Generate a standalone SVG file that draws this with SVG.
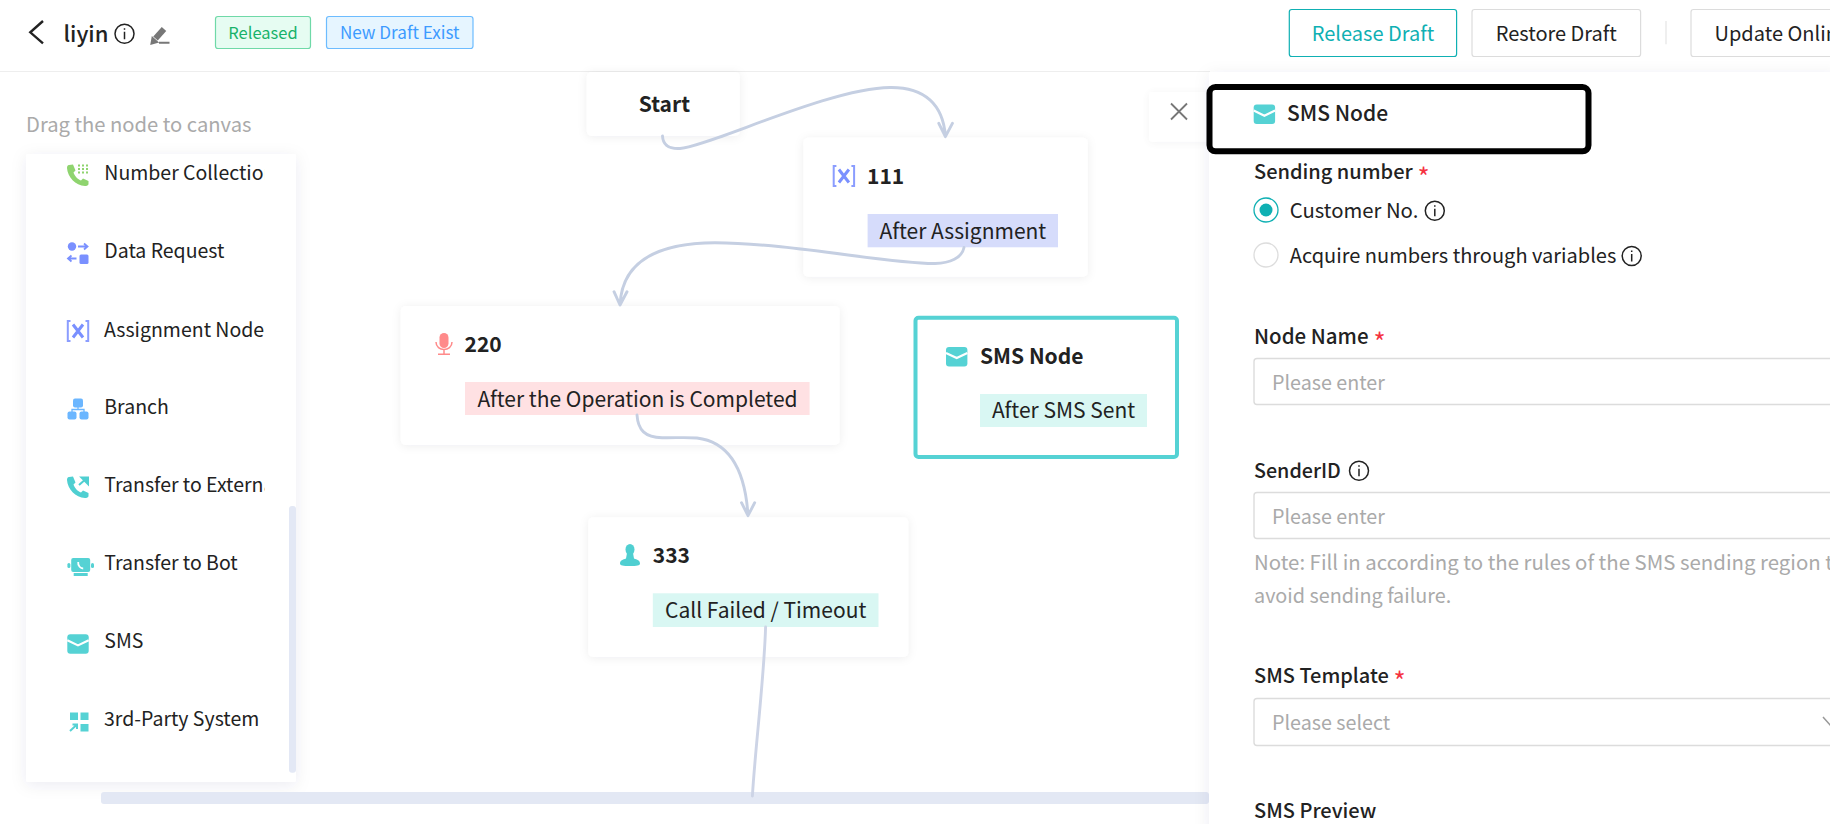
<svg xmlns="http://www.w3.org/2000/svg" xmlns:xlink="http://www.w3.org/1999/xlink" width="1830" height="824" viewBox="0 0 1830 824">
<style>
text{font-family:"Noto Sans CJK SC","Noto Sans",sans-serif;font-size:20px;fill:#222}
.b{font-weight:700;font-size:21px}.nl{font-size:21px}.n{font-size:19.500px}.m{font-weight:500}.g{fill:#aaa}.c{text-anchor:middle}
.star{fill:#f5323f;font-size:26px}
.card{fill:#fff;filter:url(#sh)}
.conn{fill:none;stroke:#c5cfe2;stroke-width:2.900;stroke-linecap:round;stroke-linejoin:round}
.inp{fill:#fff;stroke:#dcdcdc;stroke-width:1.400}
</style>
<defs>
<filter id="sh" x="-20%" y="-20%" width="140%" height="140%"><feDropShadow dx="0" dy="1" stdDeviation="5" flood-color="#1a2550" flood-opacity=".07"/></filter>
<filter id="sh2" x="-20%" y="-20%" width="140%" height="140%"><feDropShadow dx="0" dy="3" stdDeviation="8" flood-color="#1a2550" flood-opacity=".08"/></filter>
<clipPath id="menu"><rect x="26" y="154" width="238.600" height="628"/></clipPath>
<path id="i-phone" d="M-9-10L-5-10.500-2.500-4.500-4.500-2.500C-3.500 1 0 4.500 3 5.500L5 3.500 10.500 6 10.500 9C10.500 10.500 8.500 11 7 11-2.500 10.500-10.500 2-11-7-11-8.500-10.500-10-9-10Z"/>
<g id="i-sms"><rect x="-10.700" y="-9.700" width="21.400" height="19.400" rx="3" fill="#55d2d4"/><path d="M-10.700-3.800L0 1.400 10.700-3.800" fill="none" stroke="#fff" stroke-width="2.200"/></g>
<g id="i-x" fill="none"><path d="M-7.500-10H-10.200V10H-7.500M7.500-10H10.200V10H7.500" stroke="#8b9dff" stroke-width="2"/><path d="M-5-6.500L5 6.500M5-6.500L-5 6.500" stroke="#7a90ff" stroke-width="3"/></g>
<g id="i-info" fill="none" stroke="#222" stroke-width="1.500"><circle r="9.500"/><path d="M0-2V5.500M0-5.500V-4"/></g>
</defs>
<rect width="1830" height="824" fill="#fff"/>

<g id="header">
<path d="M43 21L30.300 32.300L43 43.300" fill="none" stroke="#222" stroke-width="2.400"/>
<text x="63.500" y="41.700" class="m" style="font-size:22px">liyin</text>
<use xlink:href="#i-info" href="#i-info" x="124.500" y="33.700"/>
<path d="M164 29L155.500 38.500" fill="none" stroke="#777" stroke-width="6"/><path d="M151.500 43.500L152.500 38 157 42ZM159 42.700H169.500" fill="#777" stroke="#777" stroke-width="2"/>
<rect x="215.500" y="16.500" width="95" height="32" rx="2.500" fill="#e6fcf2" stroke="#6fd9a8" stroke-width="1.200"/>
<text x="263" y="39" class="c" style="font-size:16.500px;fill:#17b26a">Released</text>
<rect x="326.500" y="16.500" width="146.500" height="32" rx="2.500" fill="#e6f5ff" stroke="#6dbcff" stroke-width="1.200"/>
<text x="399.700" y="39" class="c" style="font-size:17.100px;fill:#3d9bff">New Draft Exist</text>
<path d="M0 71.500H1210" stroke="#eee" stroke-width="1.200"/>
<rect x="1289.300" y="9.500" width="167.300" height="47" rx="2.500" fill="#fff" stroke="#0fb0b3" stroke-width="1.200"/>
<text x="1373" y="41.300" class="c" style="fill:#0fb0b3">Release Draft</text>
<rect x="1472" y="9.500" width="168.600" height="47" rx="2.500" fill="#fff" stroke="#dcdcdc" stroke-width="1.200"/>
<text x="1556.300" y="41.300" class="c">Restore Draft</text>
<path d="M1666 21V44.300" stroke="#e8e8e8" stroke-width="1.400"/>
<rect x="1691" y="9.500" width="170" height="47" rx="2.500" fill="#fff" stroke="#dcdcdc" stroke-width="1.200"/>
<text x="1714.500" y="41.300">Update Online</text>
</g>

<g id="palette">
<text x="26" y="132" class="g" style="font-size:20.200px">Drag the node to canvas</text>
<rect x="26" y="154" width="270" height="628" rx="2" fill="#fff" filter="url(#sh2)"/>
<rect x="289" y="506" width="7" height="266.700" rx="3" fill="#e3e8f5"/>
<g clip-path="url(#menu)">
<text x="104.300" y="180" class="n">Number Collection</text>
<text x="104.300" y="258" class="n">Data Request</text>
<text x="104" y="336.700" class="n">Assignment Node</text>
<text x="104.300" y="414" class="n">Branch</text>
<text x="104.300" y="492" class="n">Transfer to Externa</text>
<text x="104.300" y="570" class="n">Transfer to Bot</text>
<text x="104.300" y="648" class="n">SMS</text>
<text x="104" y="726" class="n">3rd-Party System</text>
</g>
<g transform="translate(78,175)"><use xlink:href="#i-phone" href="#i-phone" fill="#8fd46f"/><path d="M0-9.500h2M4-9.500h2M8-9.500h2M0-6h2M4-6h2M8-6h2M0-2.500h2M4-2.500h2M8-2.500h2" stroke="#8fd46f" stroke-width="2"/></g>
<g transform="translate(78,253)" fill="#7a90ff"><circle cx="-6" cy="-6.500" r="4.200"/><rect x="1.500" y="1.500" width="9" height="9.500" rx="1.500"/><path d="M0-6.500H9M6-9.500L9.500-6.500 6-3.500M-1.500 5.500H-9.500M-6.500 2.500L-10 5.500-6.500 8.500" fill="none" stroke="#7a90ff" stroke-width="1.800"/></g>
<use xlink:href="#i-x" href="#i-x" x="78" y="331"/>
<g transform="translate(78,409)"><rect x="-5" y="-10.500" width="10" height="9" rx="2" fill="#6bb6ff"/><rect x="-10.500" y="2.500" width="9" height="8" rx="2" fill="#6bb6ff"/><rect x="1.500" y="2.500" width="9" height="8" rx="2" fill="#6bb6ff"/><path d="M0-2V1M-6 3V.5H6V3" fill="none" stroke="#6bb6ff" stroke-width="1.300"/></g>
<g transform="translate(78,487)"><use xlink:href="#i-phone" href="#i-phone" fill="#4fcfd1"/><path d="M1-2L9-9M3.500-9.500H10V-3Z" fill="#4fcfd1" stroke="#4fcfd1" stroke-width="2"/></g>
<g transform="translate(80.700,567)" fill="#55d2d4"><rect x="-9.500" y="-9" width="19" height="14" rx="2"/><rect x="-7" y="6" width="14" height="3"/><rect x="-13.300" y="-4" width="3" height="5" rx="1.500"/><rect x="10.300" y="-4" width="3" height="5" rx="1.500"/><path d="M-2.500-5C-3-1 0 1.500 2.500 1.500" fill="none" stroke="#fff" stroke-width="1.800"/></g>
<use xlink:href="#i-sms" href="#i-sms" x="78" y="644"/>
<g transform="translate(79,722)" fill="#55d2d4"><rect x="-9" y="-9.500" width="8" height="7.500"/><rect x="1.500" y="-9.500" width="8" height="7.500"/><rect x="1.500" y="2" width="8" height="7.500"/><path d="M-9 9L-2.500 3M-6.500 2.500H-2V7" fill="none" stroke="#55d2d4" stroke-width="2"/></g>
</g>

<rect id="hscroll" x="101" y="792" width="1108" height="12" rx="3" fill="#e3e8f4"/>

<g id="node-start"><rect class="card" x="586.800" y="72" width="153" height="64" rx="5"/><text x="638.800" y="111.700" class="b">Start</text></g>
<g id="node-111"><rect class="card" x="803.400" y="137.700" width="284.400" height="139" rx="5"/><use xlink:href="#i-x" href="#i-x" x="843.900" y="176"/><text x="867" y="184" class="b">111</text><rect x="867.600" y="214" width="190.400" height="33.300" fill="#d6dcfb"/><text x="879.600" y="238.700" class="nl">After Assignment</text></g>
<g id="node-220"><rect class="card" x="400.800" y="306" width="438.800" height="139" rx="5"/><g transform="translate(444,344)" fill="#ff8a8a"><rect x="-4.500" y="-11" width="9" height="15" rx="4.500"/><path d="M-8-2C-8 8 8 8 8-2M0 5V10M-6 10.300H6" fill="none" stroke="#ff8a8a" stroke-width="1.500"/></g><text x="464.500" y="351.700" class="b">220</text><rect x="465" y="382" width="344.600" height="33" fill="#ffe1e3"/><text x="477.400" y="406.700" class="nl">After the Operation is Completed</text></g>
<g id="node-sms"><rect x="915.500" y="317.700" width="261.500" height="139.300" rx="3" fill="#fff" stroke="#55d2d4" stroke-width="4"/><use xlink:href="#i-sms" href="#i-sms" x="956.700" y="356.700"/><text x="980" y="364" class="b">SMS Node</text><rect x="980" y="394" width="167" height="33" fill="#d9f7f3"/><text x="992" y="418" class="nl">After SMS Sent</text></g>
<g id="node-333"><rect class="card" x="588.300" y="517.300" width="320" height="139.700" rx="5"/><g transform="translate(630,555)" fill="#4fcfd1"><ellipse cy="-5.500" rx="4.500" ry="5.500"/><path d="M-3-2H3L4 3.500C7 4.500 10 5.500 10 8.500 10 10.500 7 11 0 11S-10 10.500-10 8.500C-10 5.500-7 4.500-4 3.500Z"/></g><text x="652.800" y="562.700" class="b">333</text><rect x="652.800" y="593.300" width="225.700" height="33.700" fill="#d9f7f3"/><text x="665" y="618.300" class="nl">Call Failed / Timeout</text></g>

<g id="connectors">
<path class="conn" d="M662.500 136C663 146 670 149 680 148.500C710 146 830 88 890 87.500C925 87 943 105 945.400 136M938.800 123.300L945.400 136.700 952.400 123.300"/>
<path class="conn" d="M964 247.500C962 258 950 263 935 263.500C890 264 790 243 715 242.700C660 243 622 260 620 305M614 291.700L620 305 627 291.700"/>
<path class="conn" d="M637 415C638 430 645 437.500 662 437.700C675 438 685 437 697 438C730 442 745 470 748 515M741.500 502.700L748 515.700 754.700 502.700"/>
<path class="conn" style="stroke:#cdd4e6" d="M765.600 627C764 680 755 750 752.400 796"/>
</g>

<g id="close"><rect x="1149" y="92" width="80" height="49.700" rx="3" fill="#fff" filter="url(#sh)" opacity=".7"/><path d="M1171 103.500L1187 119.500M1187 103.500L1171 119.500" stroke="#777" stroke-width="1.800"/></g>

<g id="panel">
<rect x="1209" y="72" width="630" height="760" fill="#fff" filter="url(#sh2)"/>
<rect x="1209.500" y="87" width="379" height="64.300" rx="6" fill="#fff" stroke="#000" stroke-width="6"/>
<use xlink:href="#i-sms" href="#i-sms" x="1264.400" y="114.300"/>
<text x="1287" y="120.700" class="m" style="font-size:21px">SMS Node</text>
<text x="1254" y="179" class="m">Sending number</text><text x="1417.500" y="187" class="star">*</text>
<circle cx="1266" cy="210" r="12" fill="#fff" stroke="#0fb0b3" stroke-width="1.300"/><circle cx="1266" cy="210" r="6.500" fill="#0fb0b3"/>
<text x="1289.800" y="218.300" style="font-size:20.300px">Customer No.</text><use xlink:href="#i-info" href="#i-info" x="1434.800" y="210.700"/>
<circle cx="1266" cy="255" r="12" fill="#fff" stroke="#ddd" stroke-width="1.300"/>
<text x="1289.800" y="263.300">Acquire numbers through variables</text><use xlink:href="#i-info" href="#i-info" x="1631.700" y="256"/>
<text x="1254" y="344" class="m" style="font-size:20.500px">Node Name</text><text x="1373.500" y="352" class="star">*</text>
<rect class="inp" x="1254" y="358.500" width="600" height="46" rx="3"/><text x="1272" y="390" class="g" style="font-size:19.700px">Please enter</text>
<text x="1254" y="477.700" class="m" style="font-size:19.700px">SenderID</text><use xlink:href="#i-info" href="#i-info" x="1359" y="470.700"/>
<rect class="inp" x="1254" y="492.500" width="600" height="46" rx="3"/><text x="1272" y="524" class="g" style="font-size:19.700px">Please enter</text>
<text x="1254" y="570" class="g" style="font-size:20.400px">Note: Fill in according to the rules of the SMS sending region to</text>
<text x="1254" y="602.700" class="g" style="font-size:19.800px">avoid sending failure.</text>
<text x="1254" y="683.300" class="m">SMS Template</text><text x="1393.500" y="691.300" class="star">*</text>
<rect class="inp" x="1254" y="698.500" width="600" height="47" rx="3"/><text x="1272" y="730" class="g" style="font-size:19.700px">Please select</text>
<path d="M1823 717L1831 726 1839 717" fill="none" stroke="#999" stroke-width="1.500"/>
<text x="1254" y="818.300" class="m">SMS Preview</text>
</g>
</svg>
